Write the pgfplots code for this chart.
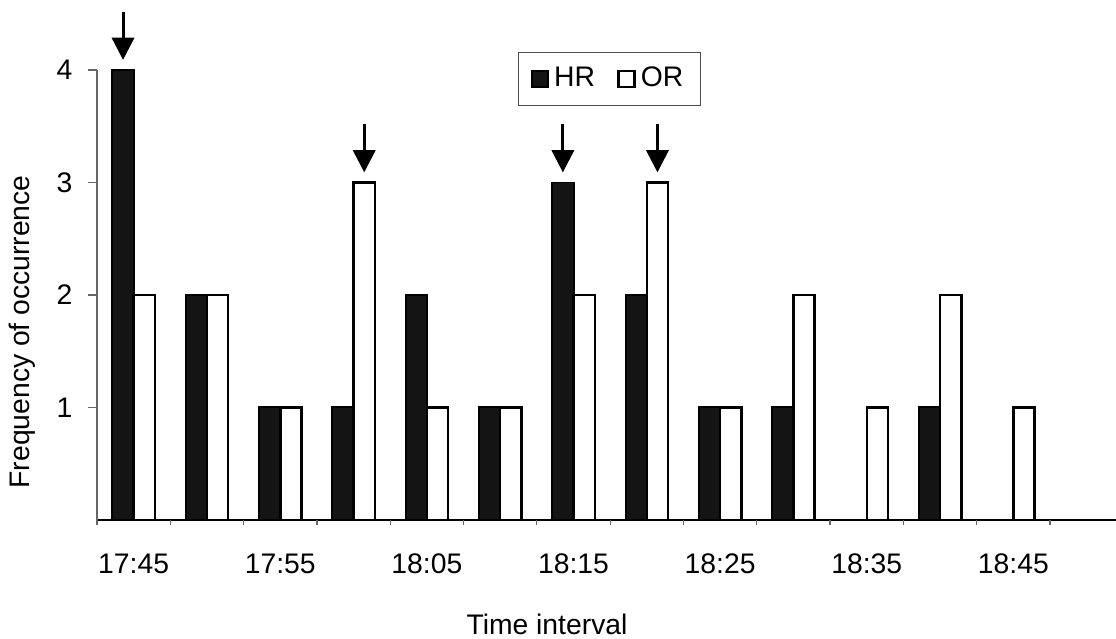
\documentclass[border=0pt]{standalone}
\usepackage{fontspec}
\setmainfont{Liberation Sans}
\usepackage{pgfplots}
\usepackage{pgfplotstable}
\pgfplotsset{compat=1.18}
\usetikzlibrary{arrows.meta}

\pgfplotstableread{
x hr or
0 4 2
1 2 2
2 1 1
3 1 3
4 2 1
5 1 1
6 3 2
7 2 3
8 1 1
9 1 2
10 nan 1
11 1 2
12 nan 1
}\datatab

\pgfplotstableread{
x y u v
-0.145 4.52 0 -0.43
3.145 3.52 0 -0.43
5.855 3.52 0 -0.43
7.145 3.52 0 -0.43
}\arrowtab

\begin{document}
\fontsize{11.5}{13.5}\selectfont
\begin{tikzpicture}
\begin{axis}[
  scale only axis, width=414pt, height=182.8pt,
  xmin=-0.5, xmax=13.4, ymin=0, ymax=4,
  axis x line=bottom, axis y line=left,
  axis line style={-},
  x axis line style={black, line width=0.9pt},
  y axis line style={black!60, line width=0.5pt},
  clip=false,
  unbounded coords=discard,
  /pgf/number format/assume math mode=true,
  tick align=outside,
  major tick length=3.7pt,
  ytick={1,2,3,4},
  ytick style={black!60, line width=0.5pt},
  yticklabel style={xshift=-2.3pt},
  xtick={0,2,...,12},
  xticklabels={17:45,17:55,18:05,18:15,18:25,18:35,18:45},
  xtick style={draw=none},
  xticklabel style={yshift=-6pt},
  extra x ticks={-0.5,0.5,...,12.5},
  extra x tick labels={},
  extra x tick style={xtick style={draw=black!60, line width=0.5pt}, major tick length=2.2pt},
  xlabel={Time interval},
  xlabel style={at={(rel axis cs:0.4416,-0.233)}, anchor=center},
  ylabel={Frequency of occurrence},
  ylabel style={at={(rel axis cs:-0.0736,0.418)}, anchor=center},
  legend style={at={(rel axis cs:0.503,0.98)}, anchor=center, legend columns=2,
    draw=black!70, line width=0.5pt, inner xsep=5pt, inner ysep=4pt,
    /tikz/every even column/.append style={column sep=7pt}},
  legend image code/.code={\draw[#1] (0pt,-3.3pt) rectangle (6.6pt,3.3pt);},
]
\addplot[ybar, bar width=0.29, bar shift=-0.145, fill=black!92, draw=black, line width=0.8pt]
  table[x=x, y=hr] {\datatab};
\addlegendentry{HR}
\addplot[ybar, bar width=0.29, bar shift=0.145, fill=white, draw=black, line width=1pt]
  table[x=x, y=or] {\datatab};
\addlegendentry{OR}
\addplot[black, line width=1.2pt, -{Triangle[length=9pt,width=9pt]},
  quiver={u=\thisrow{u}, v=\thisrow{v}}] table[x=x, y=y] {\arrowtab};
\coordinate (bbSW) at (rel axis cs:-0.0952,-0.2644);
\coordinate (bbNE) at (rel axis cs:1,1.1556);
\end{axis}
\pgfresetboundingbox
\useasboundingbox (bbSW) rectangle (bbNE);
\end{tikzpicture}
\end{document}
